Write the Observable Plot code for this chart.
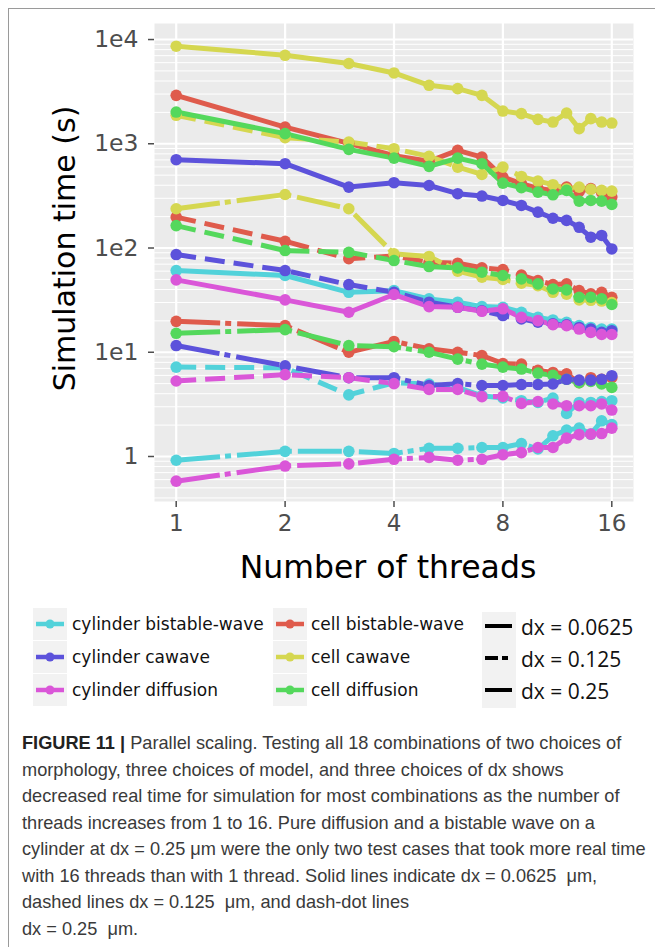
<!DOCTYPE html>
<html>
<head>
<meta charset="utf-8">
<script src="https://cdn.jsdelivr.net/npm/d3@7"></script>
<script src="https://cdn.jsdelivr.net/npm/@observablehq/plot@0.6"></script>
<style>
  html, body { margin: 0; padding: 0; background: #fff; }
  #page { position: relative; width: 655px; height: 947px; overflow: hidden; }
  #frameTop { position: absolute; left: 8px; top: 8px; width: 660px; height: 0; border-top: 1.5px solid #9a9a9a; }
  #frameLeft { position: absolute; left: 8px; top: 8px; width: 0; height: 950px; border-left: 1.5px solid #9a9a9a; }
  #chart { position: absolute; left: 0; top: 0; }
  #legend { position: absolute; left: 0; top: 600px; }
  #caption { position: absolute; left: 22px; top: 730px; font-family: "Liberation Sans Narrow", "Liberation Sans", sans-serif; font-size: 18.2px; color: #3a3a3a; }
  #caption div { white-space: nowrap; height: 26.5px; line-height: 26.5px; }
  #caption b { font-weight: bold; color: #222; }
</style>
</head>
<body>
<div id="page">
  <div id="frameTop"></div>
  <div id="frameLeft"></div>
  <div id="chart"></div>
  <div id="legend"></div>
  <div id="caption"></div>
</div>
<script>
// Number of threads used for every run
const threads = [1, 2, 3, 4, 5, 6, 7, 8, 9, 10, 11, 12, 13, 14, 15, 16];

// Simulation time (s) per thread count, by morphology / model / dx
const cellBistable0625 = [2915, 1446, 1009, 770, 680, 864, 745, 479, 414, 373, 357, 384, 349, 371, 341, 308];
const cellBistable125  = [198, 116, 79, 84, 73, 71.5, 64.6, 62, 55, 48.7, 44.6, 45.3, 39, 36.3, 37.6, 33.7];
const cellBistable25   = [19.8, 18, 10, 12.7, 10.8, 10, 9.3, 7.8, 7.7, 6.7, 6.4, 6.2, 5.1, 5.7, 5.5, 5.7];

const cellCawave0625 = [8630, 7060, 5890, 4780, 3640, 3380, 2915, 2060, 1945, 1715, 1615, 1972, 1396, 1742, 1615, 1580];
const cellCawave125  = [1875, 1145, 1038, 897, 757, 597, 508, 597, 486, 439, 405, 370, 384, 365, 357, 351];
const cellCawave25   = [238, 326, 238, 88, 83, 60, 52.5, 50, 46, 43.6, 37.6, 36, 31.8, 31.5, 31, 30];

const cellDiffusion0625 = [2016, 1250, 884, 729, 607, 729, 644, 419, 379, 344, 324, 357, 282, 286, 282, 262];
const cellDiffusion125  = [164, 94.6, 91, 75.8, 66.4, 64.5, 58.6, 54.5, 50.6, 45.3, 40.5, 39.7, 33.7, 33.7, 32.5, 28.7];
const cellDiffusion25   = [15.2, 16.5, 11.6, 11.3, 10, 8.6, 7.7, 7.2, 6.9, 6.3, 6.0, 5.5, 5.1, 5.25, 4.96, 4.6];

const cylBistable0625 = [60.8, 54.5, 37.6, 39, 32.5, 30.2, 27.4, 27, 24.2, 21.6, 20.4, 19.4, 18, 17.3, 16.7, 16.7];
const cylBistable125  = [7.2, 7.1, 3.9, 5.1, 4.96, 4.6, 3.83, 3.64, 3.43, 3.3, 3.64, 2.59, 3.3, 3.3, 3.37, 3.43];
const cylBistable25   = [0.92, 1.12, 1.12, 1.07, 1.2, 1.2, 1.22, 1.22, 1.33, 1.18, 1.58, 1.79, 1.87, 1.64, 2.2, 2.02];

const cylCawave0625 = [703, 644, 384, 423, 398, 332, 315, 286, 256, 221, 193, 184, 158, 127, 132, 98];
const cylCawave125  = [86.6, 60.8, 44.6, 37.6, 30.2, 27, 25, 22.5, 20.9, 19.4, 18.7, 18.3, 17.3, 16.7, 15.5, 16.1];
const cylCawave25   = [11.6, 7.4, 5.7, 5.7, 4.8, 5.0, 4.8, 4.8, 4.9, 4.9, 4.96, 5.5, 5.4, 5.4, 5.5, 5.96];

const cylDiffusion0625 = [49.5, 31.8, 24.2, 35.8, 27.4, 27, 24.7, 26.1, 21.6, 20.1, 18.4, 18, 16.7, 15.5, 14.8, 14.8];
const cylDiffusion125  = [5.3, 6.1, 5.7, 5.0, 4.4, 4.4, 3.75, 3.77, 3.23, 3.37, 3.19, 3.07, 3.07, 3.07, 3.19, 2.79];
const cylDiffusion25   = [0.58, 0.81, 0.85, 0.94, 0.98, 0.92, 0.94, 1.04, 1.09, 1.22, 1.22, 1.5, 1.62, 1.64, 1.66, 1.87];

// Legend entries
const conditions = ["cylinder bistable-wave", "cylinder cawave", "cylinder diffusion",
                    "cell bistable-wave", "cell cawave", "cell diffusion"];
const conditionColors = ["#52D2DA", "#5C52DB", "#DA56D8", "#DF5B4C", "#D5D750", "#54D85C"];
const dxLevels = ["0.0625", "0.125", "0.25"];
const dxDash = [null, "20,9", "44,5,6,6"];

// Axis ticks
const xTicks = [1, 2, 4, 8, 16];
const yMajor = [1, 10, 100, 1000, 10000];

const colorOf = Object.fromEntries(conditions.map((c, i) => [c, conditionColors[i]]));
const dashOf = Object.fromEntries(dxLevels.map((d, i) => [d, dxDash[i]]));

// Drawing order of the 18 runs
const runs = [
  ["cell bistable-wave", "0.0625", cellBistable0625],
  ["cell bistable-wave", "0.125", cellBistable125],
  ["cell bistable-wave", "0.25", cellBistable25],
  ["cell cawave", "0.0625", cellCawave0625],
  ["cell cawave", "0.125", cellCawave125],
  ["cell cawave", "0.25", cellCawave25],
  ["cell diffusion", "0.0625", cellDiffusion0625],
  ["cell diffusion", "0.125", cellDiffusion125],
  ["cell diffusion", "0.25", cellDiffusion25],
  ["cylinder bistable-wave", "0.0625", cylBistable0625],
  ["cylinder bistable-wave", "0.125", cylBistable125],
  ["cylinder bistable-wave", "0.25", cylBistable25],
  ["cylinder cawave", "0.0625", cylCawave0625],
  ["cylinder cawave", "0.125", cylCawave125],
  ["cylinder cawave", "0.25", cylCawave25],
  ["cylinder diffusion", "0.0625", cylDiffusion0625],
  ["cylinder diffusion", "0.125", cylDiffusion125],
  ["cylinder diffusion", "0.25", cylDiffusion25]
].map(([condition, dx, values]) => ({
  condition, dx,
  rows: threads.map((t, i) => ({threads: t, time: values[i], color: colorOf[condition]}))
}));

// Minor horizontal grid: 2..9 x 10^k
const yMinor = [];
for (let k = -1; k <= 4; k++) for (let m = 2; m <= 9; m++) {
  const v = m * Math.pow(10, k);
  if (v > 0.37 && v < 14250) yMinor.push(v);
}

const fontFamily = "'DejaVu Sans', Verdana, sans-serif";

const chart = Plot.plot({
  width: 655,
  height: 590,
  marginLeft: 154,
  marginRight: 22,
  marginTop: 23,
  marginBottom: 89,
  style: {fontFamily, background: "transparent", overflow: "visible"},
  x: {type: "log", base: 2, domain: [0.871, 18.37]},
  y: {type: "log", domain: [0.37, 14250]},
  color: {type: "identity"},
  marks: [
    Plot.frame({fill: "#EBEBEB", stroke: null}),
    Plot.ruleY(yMinor, {stroke: "white", strokeWidth: 1}),
    Plot.ruleY(yMajor, {stroke: "white", strokeWidth: 2}),
    Plot.ruleX(xTicks, {stroke: "white", strokeWidth: 2.2}),
    ...runs.map(r => Plot.line(r.rows, {
      x: "threads", y: "time",
      stroke: colorOf[r.condition],
      strokeWidth: 5,
      strokeDasharray: dashOf[r.dx] ?? undefined,
      strokeLinecap: "butt",
      strokeLinejoin: "round"
    })),
    Plot.dot(runs.flatMap(r => r.rows), {x: "threads", y: "time", fill: "color", r: 5.8, stroke: null}),
    Plot.axisX(xTicks, {
      tickSize: 6, tickPadding: 7, fontSize: 23, color: "#4D4D4D", strokeWidth: 1.5,
      tickFormat: d => String(d), label: null
    }),
    Plot.axisY(yMajor, {
      tickSize: 6, tickPadding: 10, fontSize: 23.5, color: "#4D4D4D", strokeWidth: 1.5,
      tickFormat: d => d === 1 ? "1" : "1e" + Math.round(Math.log10(d)), label: null
    }),
    Plot.text(["Simulation time (s)"], {
      text: d => d, frameAnchor: "left", dx: -89, dy: -14, rotate: -90,
      fontSize: 30, fill: "#000", textAnchor: "middle", lineAnchor: "middle"
    }),
    Plot.text(["Number of threads"], {
      text: d => d, frameAnchor: "bottom", dx: -6, dy: 66,
      fontSize: 31.5, fill: "#000", textAnchor: "middle", lineAnchor: "middle"
    })
  ]
});
document.getElementById("chart").appendChild(chart);

// Legend below the plot: two colour columns and one line-type column
const legend = d3.select("#legend").append("svg")
  .attr("width", 655).attr("height", 110)
  .style("font-family", fontFamily);

const rowY = [24, 57, 90];
const colourCols = [{keyX: 33, textX: 72}, {keyX: 273, textX: 311}];
conditions.forEach((c, i) => {
  const col = colourCols[Math.floor(i / 3)];
  const y = rowY[i % 3];
  const g = legend.append("g");
  g.append("rect").attr("x", col.keyX).attr("y", y - 16).attr("width", 34).attr("height", 32).attr("fill", "#F2F2F2");
  g.append("line").attr("x1", col.keyX + 3).attr("x2", col.keyX + 31).attr("y1", y).attr("y2", y)
    .attr("stroke", colorOf[c]).attr("stroke-width", 4.5);
  g.append("circle").attr("cx", col.keyX + 17).attr("cy", y).attr("r", 4.5).attr("fill", colorOf[c]);
  g.append("text").attr("x", col.textX).attr("y", y).attr("dy", "0.35em")
    .attr("font-size", 17).attr("fill", "#111").text(c);
});

const dxRowY = [28, 60, 92];
dxLevels.forEach((d, i) => {
  const y = dxRowY[i];
  const g = legend.append("g");
  g.append("rect").attr("x", 482).attr("y", y - 16).attr("width", 34).attr("height", 32).attr("fill", "#F2F2F2");
  g.append("line").attr("x1", 485).attr("x2", 512).attr("y1", y - 2).attr("y2", y - 2)
    .attr("stroke", "#000").attr("stroke-width", 4)
    .attr("stroke-dasharray", i === 1 ? "13,4,6,10" : null);
  g.append("text").attr("x", 521).attr("y", y).attr("dy", "0.35em")
    .attr("font-family", "'Open Sans', sans-serif").attr("font-size", 21).attr("fill", "#111")
    .text("dx = " + d);
});

// Figure caption
const captionLines = [
  ["FIGURE 11 |", " Parallel scaling. Testing all 18 combinations of two choices of"],
  ["", "morphology, three choices of model, and three choices of dx shows"],
  ["", "decreased real time for simulation for most combinations as the number of"],
  ["", "threads increases from 1 to 16. Pure diffusion and a bistable wave on a"],
  ["", "cylinder at dx = 0.25 \u03bcm were the only two test cases that took more real time"],
  ["", "with 16 threads than with 1 thread. Solid lines indicate dx = 0.0625 \u00a0\u03bcm,"],
  ["", "dashed lines dx = 0.125 \u00a0\u03bcm, and dash-dot lines"],
  ["", "dx = 0.25 \u00a0\u03bcm."]
];
const cap = d3.select("#caption");
captionLines.forEach(([bold, rest]) => {
  const line = cap.append("div");
  if (bold) line.append("b").text(bold);
  line.append("span").text(rest);
});
</script>
</body>
</html>
